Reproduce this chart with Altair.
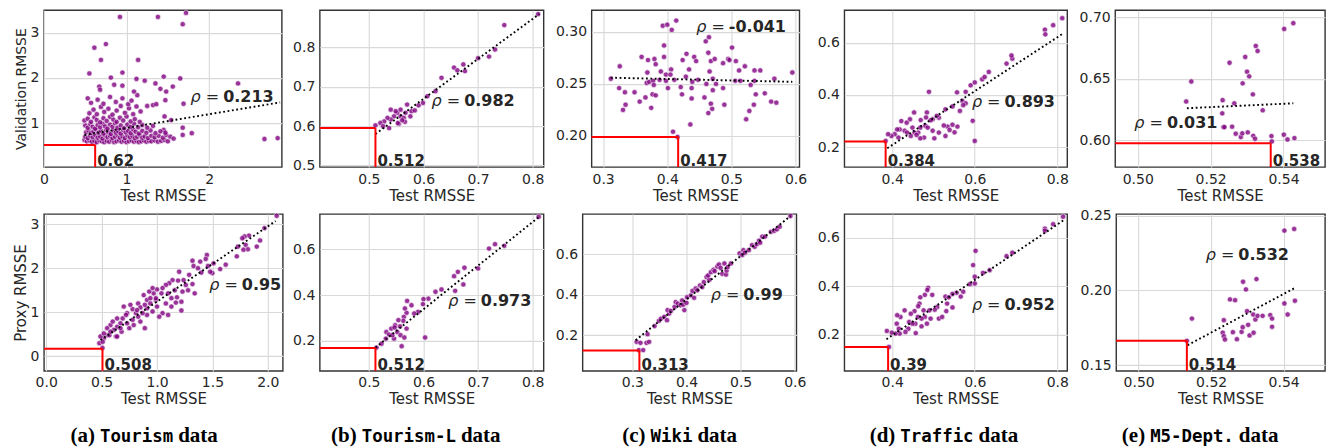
import altair as alt
import pandas as pd

# ---------------- data ----------------
tour_val = [
    (0.92, 3.35), (1.38, 3.35), (1.72, 3.44), (1.68, 3.19), (0.61, 2.67), (0.75, 2.75), (0.69, 2.40),
    (1.14, 2.40), (0.55, 2.10), (0.95, 2.12), (0.81, 2.01), (1.12, 1.98), (1.22, 1.94), (1.45, 2.03),
    (1.65, 1.99), (2.35, 1.88), (1.35, 1.88), (1.41, 1.76), (1.48, 1.70), (1.56, 1.81), (1.47, 1.51),
    (1.69, 1.43), (1.32, 1.40), (1.36, 1.42), (0.53, 1.55), (0.67, 1.81), (0.68, 1.74), (0.85, 1.85),
    (0.95, 1.83), (1.13, 1.62), (1.09, 1.70), (1.68, 0.90), (1.79, 0.78), (1.68, 0.74), (2.67, 0.65),
    (2.83, 0.67), (1.46, 1.15), (1.54, 1.07), (1.45, 0.85), (0.61, 0.55),
    (0.49, 0.63), (0.52, 0.60), (0.55, 0.62), (0.58, 0.59), (0.61, 0.61), (0.64, 0.58), (0.67, 0.62),
    (0.70, 0.60), (0.73, 0.58), (0.76, 0.61), (0.79, 0.59), (0.82, 0.63), (0.85, 0.58), (0.88, 0.60),
    (0.91, 0.62), (0.94, 0.59), (0.97, 0.61), (1.00, 0.58), (1.03, 0.60), (1.06, 0.62), (1.09, 0.59),
    (1.12, 0.61), (1.15, 0.58), (1.18, 0.60), (1.21, 0.62), (1.24, 0.59), (1.27, 0.61), (1.30, 0.60),
    (1.34, 0.62), (1.38, 0.59), (1.42, 0.61), (1.46, 0.63), (1.50, 0.60),
    (0.50, 0.70), (0.53, 0.67), (0.56, 0.72), (0.59, 0.69), (0.62, 0.74), (0.65, 0.68), (0.68, 0.71),
    (0.71, 0.66), (0.74, 0.73), (0.77, 0.69), (0.80, 0.72), (0.83, 0.67), (0.86, 0.70), (0.89, 0.74),
    (0.92, 0.68), (0.95, 0.71), (0.98, 0.67), (1.01, 0.73), (1.04, 0.69), (1.07, 0.72), (1.10, 0.67),
    (1.13, 0.70), (1.16, 0.74), (1.19, 0.68), (1.22, 0.71), (1.26, 0.67), (1.30, 0.72), (1.34, 0.69),
    (1.39, 0.72), (1.44, 0.68), (1.48, 0.74), (1.53, 0.70), (1.57, 0.66),
    (0.51, 0.80), (0.54, 0.84), (0.57, 0.78), (0.60, 0.82), (0.63, 0.86), (0.66, 0.79), (0.69, 0.83),
    (0.72, 0.77), (0.75, 0.85), (0.78, 0.80), (0.81, 0.76), (0.84, 0.84), (0.87, 0.79), (0.90, 0.82),
    (0.93, 0.77), (0.96, 0.85), (0.99, 0.80), (1.02, 0.83), (1.05, 0.78), (1.08, 0.86), (1.11, 0.81),
    (1.15, 0.77), (1.19, 0.83), (1.24, 0.79), (1.29, 0.84), (1.35, 0.78), (1.41, 0.82), (1.47, 0.79),
    (0.50, 0.95), (0.53, 0.90), (0.56, 0.98), (0.59, 0.92), (0.62, 0.88), (0.65, 0.96), (0.68, 0.91),
    (0.71, 0.99), (0.74, 0.93), (0.77, 0.88), (0.80, 0.97), (0.83, 0.92), (0.86, 1.00), (0.89, 0.90),
    (0.93, 0.95), (0.97, 0.89), (1.01, 0.97), (1.05, 0.92), (1.09, 0.99), (1.14, 0.91), (1.19, 0.96),
    (1.25, 0.90), (1.32, 0.94),
    (0.49, 1.06), (0.53, 1.10), (0.57, 1.03), (0.61, 1.13), (0.64, 1.07), (0.68, 1.02), (0.72, 1.11),
    (0.76, 1.05), (0.80, 1.14), (0.84, 1.08), (0.88, 1.03), (0.92, 1.12), (0.96, 1.06), (1.00, 1.15),
    (1.05, 1.04), (1.10, 1.09), (1.16, 1.03),
    (0.55, 1.22), (0.60, 1.30), (0.64, 1.20), (0.69, 1.36), (0.73, 1.25), (0.78, 1.32), (0.83, 1.19),
    (0.88, 1.28), (0.93, 1.38), (0.98, 1.23), (1.03, 1.33), (1.08, 1.20), (1.12, 1.37), (1.17, 1.26),
    (1.25, 1.38), (0.57, 1.45), (0.65, 1.52), (0.72, 1.43), (0.80, 1.58), (0.87, 1.47), (0.95, 1.55),
    (1.02, 1.42), (1.06, 1.50),
]
tour_proxy = [
    (0.48, 0.30), (2.08, 3.19), (1.97, 2.91), (1.93, 2.63), (1.90, 2.49), (1.83, 2.74), (1.79, 2.72),
    (1.77, 2.68), (1.80, 2.53), (1.82, 2.43), (1.78, 2.42), (1.73, 2.49), (1.72, 2.27), (1.62, 2.08),
    (1.57, 1.98), (1.50, 1.89), (1.48, 1.92), (1.45, 2.30), (1.44, 2.21), (1.39, 2.15), (1.32, 2.17),
    (1.33, 2.05), (1.37, 2.00), (1.40, 1.90), (1.46, 2.05), (1.51, 2.11), (1.20, 1.92), (1.29, 1.85),
    (1.24, 1.73), (1.32, 1.64), (1.19, 1.72), (1.14, 1.73), (1.11, 1.66), (1.08, 1.62), (1.22, 1.04),
    (1.22, 1.24), (1.18, 1.34), (1.13, 1.32), (1.08, 1.20), (1.10, 0.94), (1.05, 0.98), (1.00, 1.13),
    (0.99, 1.28), (0.97, 1.43), (0.93, 1.47), (0.88, 1.39), (0.91, 1.28), (0.94, 1.20), (0.83, 1.20),
    (0.85, 1.11), (0.81, 0.98), (0.78, 1.07), (0.73, 0.98), (0.69, 0.86), (0.67, 0.75), (0.64, 0.67),
    (0.61, 0.60), (0.58, 0.71), (0.55, 0.64), (0.55, 0.48), (0.52, 0.41), (0.51, 0.33), (0.49, 0.45),
    (0.57, 0.48), (0.63, 0.45), (0.68, 0.56), (0.75, 0.64), (0.79, 0.71), (0.85, 0.79), (0.89, 0.64),
    (0.83, 0.90), (0.91, 0.94), (0.96, 1.02), (1.02, 0.90), (1.04, 1.43), (1.00, 1.52), (1.05, 1.55),
    (0.96, 1.55), (0.72, 0.94), (0.70, 1.13), (0.76, 1.17), (0.64, 0.86), (0.60, 0.79), (0.67, 0.64),
    (0.73, 0.75), (0.78, 0.83), (0.82, 1.05), (0.87, 0.98), (0.91, 1.09), (0.99, 1.32), (1.10, 1.43),
    (1.16, 1.50), (1.26, 1.62), (1.28, 1.50), (1.23, 1.47), (1.34, 1.43), (1.17, 1.22), (1.13, 1.13),
    (0.94, 1.32), (0.89, 1.17), (0.58, 0.56), (0.64, 0.45), (0.52, 0.52), (0.508, 0.19),
]
tourl_val = [
    (0.810, 0.885), (0.748, 0.857), (0.731, 0.795), (0.720, 0.777), (0.700, 0.773), (0.673, 0.757),
    (0.676, 0.740), (0.656, 0.749), (0.662, 0.742), (0.633, 0.723), (0.622, 0.689), (0.607, 0.676),
    (0.599, 0.659), (0.591, 0.653), (0.570, 0.655), (0.578, 0.638), (0.567, 0.634), (0.558, 0.625),
    (0.552, 0.634), (0.546, 0.625), (0.540, 0.617), (0.534, 0.621), (0.528, 0.612), (0.521, 0.608),
    (0.512, 0.602), (0.526, 0.600), (0.537, 0.595), (0.555, 0.606), (0.564, 0.621), (0.566, 0.611),
    (0.576, 0.625), (0.584, 0.640), (0.558, 0.642), (0.549, 0.638), (0.540, 0.642), (0.553, 0.608),
    (0.561, 0.615),
]
tourl_proxy = [
    (0.811, 0.743), (0.748, 0.616), (0.731, 0.623), (0.720, 0.604), (0.700, 0.517), (0.675, 0.520),
    (0.663, 0.502), (0.656, 0.483), (0.673, 0.447), (0.658, 0.419), (0.633, 0.425), (0.622, 0.415),
    (0.609, 0.385), (0.600, 0.383), (0.599, 0.361), (0.590, 0.327), (0.583, 0.320), (0.578, 0.356),
    (0.569, 0.323), (0.564, 0.305), (0.563, 0.288), (0.557, 0.264), (0.554, 0.291), (0.548, 0.269),
    (0.541, 0.254), (0.532, 0.239), (0.537, 0.228), (0.531, 0.210), (0.523, 0.188), (0.514, 0.171),
    (0.552, 0.239), (0.558, 0.225), (0.565, 0.215), (0.560, 0.177), (0.546, 0.210), (0.603, 0.215),
    (0.569, 0.254), (0.566, 0.342), (0.570, 0.375), (0.543, 0.225), (0.547, 0.259),
]
wiki_val = [
    (0.312, 0.255), (0.326, 0.267), (0.325, 0.246), (0.334, 0.242), (0.331, 0.225), (0.335, 0.230),
    (0.349, 0.242), (0.357, 0.233), (0.360, 0.276), (0.366, 0.237), (0.369, 0.261), (0.370, 0.273),
    (0.368, 0.251), (0.372, 0.252), (0.375, 0.227), (0.378, 0.253), (0.377, 0.240), (0.382, 0.239),
    (0.380, 0.274), (0.382, 0.269), (0.379, 0.249), (0.388, 0.254), (0.390, 0.262), (0.393, 0.306),
    (0.400, 0.307), (0.407, 0.302), (0.395, 0.287), (0.395, 0.276), (0.398, 0.259), (0.398, 0.253),
    (0.401, 0.246), (0.406, 0.264), (0.405, 0.259), (0.411, 0.254), (0.414, 0.311), (0.409, 0.204),
    (0.416, 0.199), (0.421, 0.247), (0.423, 0.240), (0.424, 0.273), (0.430, 0.279), (0.429, 0.257),
    (0.434, 0.264), (0.436, 0.211), (0.438, 0.246), (0.438, 0.236), (0.442, 0.276), (0.439, 0.252),
    (0.445, 0.272), (0.448, 0.254), (0.458, 0.237), (0.461, 0.250), (0.460, 0.291), (0.465, 0.295),
    (0.464, 0.280), (0.464, 0.222), (0.466, 0.262), (0.468, 0.272), (0.468, 0.231), (0.470, 0.226),
    (0.471, 0.244), (0.471, 0.255), (0.474, 0.274), (0.476, 0.250), (0.487, 0.246), (0.489, 0.230),
    (0.487, 0.270), (0.495, 0.274), (0.497, 0.273), (0.501, 0.285), (0.507, 0.272), (0.506, 0.253),
    (0.512, 0.263), (0.514, 0.253), (0.521, 0.267), (0.523, 0.216), (0.528, 0.224), (0.530, 0.249),
    (0.535, 0.230), (0.536, 0.253), (0.536, 0.263), (0.538, 0.240), (0.545, 0.263), (0.552, 0.241),
    (0.562, 0.233), (0.567, 0.255), (0.570, 0.232), (0.595, 0.261),
]
wiki_proxy = [
    (0.308, 0.167), (0.315, 0.162), (0.326, 0.162), (0.331, 0.167), (0.312, 0.126), (0.320, 0.126),
    (0.328, 0.205), (0.341, 0.245), (0.349, 0.271), (0.353, 0.282), (0.359, 0.291), (0.364, 0.274),
    (0.368, 0.307), (0.365, 0.324), (0.371, 0.320), (0.378, 0.340), (0.380, 0.364), (0.384, 0.356),
    (0.392, 0.372), (0.389, 0.348), (0.394, 0.351), (0.396, 0.324), (0.401, 0.388), (0.400, 0.360),
    (0.408, 0.397), (0.411, 0.419), (0.414, 0.385), (0.417, 0.431), (0.420, 0.422), (0.425, 0.446),
    (0.429, 0.438), (0.432, 0.463), (0.437, 0.488), (0.442, 0.474), (0.440, 0.496), (0.445, 0.512),
    (0.450, 0.524), (0.452, 0.517), (0.457, 0.540), (0.460, 0.550), (0.463, 0.533), (0.466, 0.504),
    (0.470, 0.555), (0.473, 0.500), (0.474, 0.520), (0.476, 0.537), (0.482, 0.555), (0.498, 0.605),
    (0.503, 0.597), (0.505, 0.621), (0.508, 0.608), (0.515, 0.621), (0.521, 0.646), (0.526, 0.638),
    (0.530, 0.651), (0.534, 0.668), (0.536, 0.658), (0.540, 0.688), (0.545, 0.688), (0.556, 0.712),
    (0.562, 0.717), (0.567, 0.724), (0.572, 0.737), (0.592, 0.790),
]
traffic_val = [
    (0.812, 0.694), (0.790, 0.667), (0.770, 0.650), (0.771, 0.632), (0.691, 0.539), (0.689, 0.551),
    (0.677, 0.520), (0.634, 0.488), (0.618, 0.460), (0.624, 0.469), (0.600, 0.448), (0.590, 0.437),
    (0.578, 0.412), (0.570, 0.377), (0.564, 0.339), (0.578, 0.368), (0.572, 0.361), (0.557, 0.410),
    (0.595, 0.301), (0.600, 0.224), (0.546, 0.356), (0.558, 0.279), (0.546, 0.286), (0.534, 0.279),
    (0.529, 0.345), (0.551, 0.257), (0.539, 0.266), (0.525, 0.283), (0.529, 0.243), (0.513, 0.256),
    (0.513, 0.313), (0.508, 0.320), (0.498, 0.307), (0.502, 0.234), (0.498, 0.263), (0.489, 0.412),
    (0.484, 0.333), (0.482, 0.314), (0.480, 0.282), (0.486, 0.275), (0.477, 0.237), (0.493, 0.303),
    (0.469, 0.304), (0.468, 0.275), (0.463, 0.256), (0.468, 0.234), (0.453, 0.333), (0.449, 0.275),
    (0.454, 0.256), (0.445, 0.243), (0.443, 0.307), (0.435, 0.294), (0.430, 0.263), (0.436, 0.256),
    (0.422, 0.300), (0.418, 0.268), (0.412, 0.268), (0.415, 0.237), (0.406, 0.250), (0.398, 0.243),
    (0.390, 0.250), (0.384, 0.224), (0.459, 0.247),
]
traffic_proxy = [
    (0.814, 0.687), (0.790, 0.656), (0.770, 0.638), (0.770, 0.629), (0.691, 0.538), (0.677, 0.524),
    (0.636, 0.466), (0.620, 0.455), (0.602, 0.546), (0.596, 0.487), (0.600, 0.439), (0.600, 0.411),
    (0.588, 0.408), (0.572, 0.377), (0.566, 0.357), (0.556, 0.373), (0.546, 0.368), (0.529, 0.357),
    (0.537, 0.354), (0.533, 0.328), (0.546, 0.312), (0.531, 0.297), (0.513, 0.266), (0.509, 0.314),
    (0.503, 0.303), (0.497, 0.364), (0.487, 0.393), (0.485, 0.384), (0.479, 0.364), (0.468, 0.354),
    (0.466, 0.328), (0.463, 0.317), (0.476, 0.300), (0.479, 0.273), (0.484, 0.245), (0.490, 0.300),
    (0.471, 0.266), (0.471, 0.234), (0.462, 0.273), (0.454, 0.297), (0.445, 0.286), (0.441, 0.252),
    (0.439, 0.224), (0.457, 0.206), (0.456, 0.245), (0.430, 0.300), (0.420, 0.273), (0.412, 0.280),
    (0.411, 0.245), (0.416, 0.224), (0.418, 0.204), (0.408, 0.204), (0.399, 0.208), (0.387, 0.215),
    (0.392, 0.149), (0.432, 0.211), (0.449, 0.245), (0.493, 0.266), (0.521, 0.273),
]
m5_val = [
    (0.5133, 0.6315), (0.5147, 0.6478), (0.5233, 0.6326), (0.5232, 0.6218), (0.5235, 0.6106),
    (0.5238, 0.6106), (0.5252, 0.6631), (0.5259, 0.6109), (0.5265, 0.6300), (0.5269, 0.6052),
    (0.5283, 0.6025), (0.5287, 0.6055), (0.5288, 0.6463), (0.5295, 0.6678), (0.5300, 0.6558),
    (0.5306, 0.6520), (0.5302, 0.6063), (0.5316, 0.6373), (0.5317, 0.6035), (0.5322, 0.6011),
    (0.5324, 0.6768), (0.5329, 0.6727), (0.5343, 0.6243), (0.5367, 0.6033), (0.5368, 0.5989),
    (0.5401, 0.6044), (0.5402, 0.6907), (0.5411, 0.6005), (0.5427, 0.6954), (0.5430, 0.6016),
]
m5_proxy = [
    (0.5133, 0.1663), (0.5147, 0.1812), (0.5235, 0.1801), (0.5232, 0.1717), (0.5235, 0.1694),
    (0.5238, 0.1672), (0.5252, 0.1940), (0.5260, 0.1721), (0.5266, 0.1935), (0.5271, 0.1674),
    (0.5284, 0.1723), (0.5287, 0.1754), (0.5288, 0.2058), (0.5296, 0.2007), (0.5299, 0.1862),
    (0.5306, 0.1699), (0.5302, 0.1770), (0.5317, 0.1717), (0.5316, 0.1839), (0.5322, 0.1806),
    (0.5325, 0.2076), (0.5328, 0.1830), (0.5342, 0.1830), (0.5363, 0.1835), (0.5368, 0.1757),
    (0.5368, 0.1812), (0.5402, 0.1913), (0.5402, 0.2400), (0.5411, 0.1839), (0.5429, 0.2411),
    (0.5431, 0.1931),
]

# fitted (dotted) regression line end points
reg_lines = {
    "tour_val": [(0.49, 0.74), (2.86, 1.46)],
    "tour_proxy": [(0.49, 0.37), (2.07, 3.07)],
    "tourl_val": [(0.512, 0.58), (0.812, 0.885)],
    "tourl_proxy": [(0.512, 0.171), (0.812, 0.743)],
    "wiki_val": [(0.312, 0.256), (0.595, 0.252)],
    "wiki_proxy": [(0.306, 0.175), (0.592, 0.790)],
    "traffic_val": [(0.388, 0.196), (0.812, 0.633)],
    "traffic_proxy": [(0.386, 0.181), (0.816, 0.673)],
    "m5_val": [(0.5135, 0.626), (0.5427, 0.630)],
    "m5_proxy": [(0.5135, 0.1634), (0.5432, 0.2018)],
}
# selected model (red guide lines) and its label
best_points = {
    "tour_val": (0.62, 0.52, "0.62"),
    "tour_proxy": (0.508, 0.17, "0.508"),
    "tourl_val": (0.512, 0.595, "0.512"),
    "tourl_proxy": (0.512, 0.169, "0.512"),
    "wiki_val": (0.417, 0.199, "0.417"),
    "wiki_proxy": (0.313, 0.124, "0.313"),
    "traffic_val": (0.384, 0.222, "0.384"),
    "traffic_proxy": (0.39, 0.149, "0.39"),
    "m5_val": (0.5365, 0.5975, "0.538"),
    "m5_proxy": (0.5133, 0.1663, "0.514"),
}
# correlation labels and their anchor (data coords)
rho_labels = {
    "tour_val": ("0.213", 2.17, 1.59),
    "tour_proxy": ("0.95", 1.765, 1.62),
    "tourl_val": ("0.982", 0.6745, 0.664),
    "tourl_proxy": ("0.973", 0.705, 0.375),
    "wiki_val": ("-0.041", 0.496, 0.305),
    "wiki_proxy": ("0.99", 0.505, 0.398),
    "traffic_val": ("0.893", 0.672, 0.372),
    "traffic_proxy": ("0.952", 0.672, 0.321),
    "m5_val": ("0.031", 0.508, 0.614),
    "m5_proxy": ("0.532", 0.5275, 0.2237),
}
# axes: x domain, y domain, x ticks, x format, y ticks, y format
axes_cfg = {
    "tour_val": ([0, 2.88], [0.03, 3.5], [0, 1, 2], "d", [1, 2, 3], "d"),
    "tour_proxy": ([-0.02, 2.135], [-0.33, 3.23], [0, 0.5, 1, 1.5, 2], ".1f", [0, 1, 2, 3], "d"),
    "tourl_val": ([0.41, 0.82], [0.496, 0.895], [0.5, 0.6, 0.7, 0.8], ".1f", [0.5, 0.6, 0.7, 0.8], ".1f"),
    "tourl_proxy": ([0.41, 0.82], [0.069, 0.755], [0.5, 0.6, 0.7, 0.8], ".1f", [0.2, 0.4, 0.6], ".1f"),
    "wiki_val": ([0.282, 0.606], [0.170, 0.321], [0.3, 0.4, 0.5, 0.6], ".1f", [0.2, 0.25, 0.3], ".2f"),
    "wiki_proxy": ([0.208, 0.603], [0.023, 0.80], [0.3, 0.4, 0.5, 0.6], ".1f", [0.2, 0.4, 0.6], ".1f"),
    "traffic_val": ([0.284, 0.824], [0.124, 0.7245], [0.4, 0.6, 0.8], ".1f", [0.2, 0.4, 0.6], ".1f"),
    "traffic_proxy": ([0.284, 0.824], [0.05, 0.698], [0.4, 0.6, 0.8], ".1f", [0.2, 0.4, 0.6], ".1f"),
    "m5_val": ([0.4938, 0.5514], [0.578, 0.706], [0.50, 0.52, 0.54], ".2f", [0.60, 0.65, 0.70], ".2f"),
    "m5_proxy": ([0.4938, 0.5514], [0.1462, 0.2511], [0.50, 0.52, 0.54], ".2f",
                 [0.15, 0.175, 0.2, 0.225, 0.25], ".2f"),
}
y_titles = {"tour_val": "Validation RMSSE", "tour_proxy": "Proxy RMSSE"}

cap_open = ["(a)", "(b)", "(c)", "(d)", "(e)"]
cap_mono = ["Tourism", "Tourism-L", "Wiki", "Traffic", "M5-Dept."]
cap_tail = "data"

# ---------------- styling / layout ----------------
PURPLE = "#800080"
TXT = "#262626"
FONT = "DejaVu Sans"
top_keys = ["tour_val", "tourl_val", "wiki_val", "traffic_val", "m5_val"]
bot_keys = ["tour_proxy", "tourl_proxy", "wiki_proxy", "traffic_proxy", "m5_proxy"]
top_w = [238, 224, 208, 223, 210]
top_gaps = [38, 48, 45, 48]
bot_w = [239, 224, 214, 223, 209]
bot_gaps = [37, 39, 48, 49]
H = 157

data_map = {
    "tour_val": tour_val, "tour_proxy": tour_proxy, "tourl_val": tourl_val, "tourl_proxy": tourl_proxy,
    "wiki_val": wiki_val, "wiki_proxy": wiki_proxy, "traffic_val": traffic_val,
    "traffic_proxy": traffic_proxy, "m5_val": m5_val, "m5_proxy": m5_proxy,
}


def panel(key, w, h):
    pts = data_map[key]
    xd, yd, xt, xf, yt, yf = axes_cfg[key]
    df = pd.DataFrame({"x": [p[0] for p in pts], "y": [p[1] for p in pts]})
    ytitle = y_titles.get(key)
    xenc = alt.X("x:Q", scale=alt.Scale(domain=xd, nice=False, zero=False),
                 axis=alt.Axis(values=xt, format=xf), title="Test RMSSE")
    if ytitle:
        yenc = alt.Y("y:Q", scale=alt.Scale(domain=yd, nice=False, zero=False),
                     axis=alt.Axis(values=yt, format=yf,
                                   titleFontSize=14 if key == "tour_val" else 15),
                     title=ytitle)
    else:
        yenc = alt.Y("y:Q", scale=alt.Scale(domain=yd, nice=False, zero=False),
                     axis=alt.Axis(values=yt, format=yf), title=None)

    points = alt.Chart(df).mark_circle(size=28, color=PURPLE, opacity=0.8, stroke="white",
                                       strokeWidth=0.6).encode(x=xenc, y=yenc)

    (rx0, ry0), (rx1, ry1) = reg_lines[key]
    regdf = pd.DataFrame({"x": [rx0], "y": [ry0], "x2": [rx1], "y2": [ry1]})
    reg = alt.Chart(regdf).mark_rule(color="black", strokeWidth=1.9, strokeDash=[1.8, 2.6]).encode(
        x="x:Q", y="y:Q", x2="x2:Q", y2="y2:Q")

    bx, by, blab = best_points[key]
    reddf = pd.DataFrame({"x": [xd[0], bx], "x2": [bx, bx], "y": [by, yd[0]], "y2": [by, by]})
    red = alt.Chart(reddf).mark_rule(color="#ff0000", strokeWidth=2).encode(
        x="x:Q", x2="x2:Q", y="y:Q", y2="y2:Q")

    bestdf = pd.DataFrame({"x": [bx], "t": [blab]})
    best = alt.Chart(bestdf).mark_text(align="left", baseline="alphabetic", dx=2, dy=-1, font=FONT,
                                       fontWeight="bold", fontSize=15, color=TXT).encode(
        x="x:Q", y=alt.value(h), text="t:N")

    rv, rxx, ryy = rho_labels[key]
    rhodf = pd.DataFrame({"x": [rxx], "y": [ryy], "t": [rv]})
    rho_a = alt.Chart(rhodf).mark_text(align="right", baseline="middle", dx=-4, font=FONT,
                                       fontStyle="italic", fontSize=16, color=TXT, text="ρ =").encode(
        x="x:Q", y="y:Q")
    rho_b = alt.Chart(rhodf).mark_text(align="left", baseline="middle", font=FONT, fontWeight="bold",
                                       fontSize=16, color=TXT).encode(x="x:Q", y="y:Q", text="t:N")

    return alt.layer(points, reg, red, best, rho_a, rho_b).properties(width=w, height=h)


dummy = pd.DataFrame({"a": [0]})


def spacer(w):
    return alt.Chart(dummy).mark_point(opacity=0, size=0).encode(
        x=alt.X("a:Q", axis=None), y=alt.Y("a:Q", axis=None)
    ).properties(width=w, height=10, view=alt.ViewBackground(stroke="transparent"))


def row(keys, widths, gaps):
    items = []
    for i, k in enumerate(keys):
        items.append(panel(k, widths[i], H))
        if i < len(gaps):
            items.append(spacer(gaps[i]))
    return alt.hconcat(*items, spacing=0, bounds="flush")


# caption row (origin of this chart sits under the first plot's left edge)
ORIGIN_X = 43
mono_start = [99, 361, 650, 900, 1150]
MONO_SIZE = 17.4
SERIF_SIZE = 21
CAP_BASE = 30
cap_layers = []
for i in range(5):
    ms = mono_start[i] - ORIGIN_X
    mono_w = len(cap_mono[i]) * 0.602 * MONO_SIZE
    cap_layers.append(alt.Chart(dummy).mark_text(
        text=cap_open[i], align="right", baseline="alphabetic", font="Liberation Serif",
        fontWeight="bold", fontSize=SERIF_SIZE, color="black").encode(
        x=alt.value(ms - 5), y=alt.value(CAP_BASE)))
    cap_layers.append(alt.Chart(dummy).mark_text(
        text=cap_mono[i], align="left", baseline="alphabetic", font="DejaVu Sans Mono",
        fontWeight="bold", fontSize=MONO_SIZE, color="black").encode(
        x=alt.value(ms), y=alt.value(CAP_BASE)))
    cap_layers.append(alt.Chart(dummy).mark_text(
        text=cap_tail, align="left", baseline="alphabetic", font="Liberation Serif",
        fontWeight="bold", fontSize=SERIF_SIZE, color="black").encode(
        x=alt.value(ms + mono_w + 5), y=alt.value(CAP_BASE)))
caption = alt.layer(*cap_layers).properties(
    width=1270, height=30, view=alt.ViewBackground(stroke="transparent"))

chart = alt.vconcat(
    row(top_keys, top_w, top_gaps),
    row(bot_keys, bot_w, bot_gaps),
    caption,
    spacing=3,
).properties(
    padding={"left": 4, "top": 0, "right": 0, "bottom": 0},
    background="white",
).configure_axis(
    labelFont=FONT, labelFontSize=14, labelColor=TXT, labelPadding=5, labelFlush=False,
    titleFont=FONT, titleFontSize=15, titleFontWeight="normal", titleColor=TXT, titlePadding=2,
    ticks=False, tickSize=0, domain=False, gridColor="#d9d9d9", gridWidth=1.1,
).configure_view(stroke="#333333", strokeWidth=1.4)

chart.save("out.html", embed_options={"renderer": "svg", "actions": False})
